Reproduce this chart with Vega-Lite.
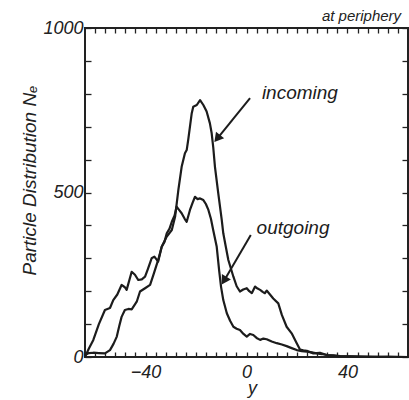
{
  "$schema": "https://vega.github.io/schema/vega-lite/v6.json",
  "width": 323,
  "height": 329,
  "autosize": "none",
  "padding": {"left": 85, "top": 28, "right": 1, "bottom": 43},
  "background": "white",
  "config": {
    "font": "Liberation Sans",
    "view": {"stroke": "#222222", "strokeWidth": 2},
    "axis": {"grid": false, "domain": false, "zindex": 1, "ticks": true, "tickColor": "#222222", "tickWidth": 1.3, "labelColor": "#222222", "titleColor": "#222222", "labelFont": "Liberation Sans", "titleFont": "Liberation Sans", "labelFontStyle": "italic", "titleFontStyle": "italic", "titleFontWeight": "normal", "labelFontSize": 18, "labelOverlap": false, "labelFlush": false}
  },
  "title": {"text": "at periphery", "anchor": "end", "fontSize": 15, "fontStyle": "italic", "fontWeight": "normal", "color": "#222222", "offset": 6, "dx": -8, "dy": 11},
  "datasets": {
    "curves": [
      {"s": "outgoing", "pos": -64, "N": 0}, {"s": "outgoing", "pos": -62.5, "N": 25}, {"s": "outgoing", "pos": -60.7, "N": 52}, {"s": "outgoing", "pos": -58.5, "N": 100}, {"s": "outgoing", "pos": -56.1, "N": 143}, {"s": "outgoing", "pos": -54.1, "N": 149}, {"s": "outgoing", "pos": -52.8, "N": 173}, {"s": "outgoing", "pos": -51.2, "N": 190}, {"s": "outgoing", "pos": -49.5, "N": 219}, {"s": "outgoing", "pos": -48.2, "N": 212}, {"s": "outgoing", "pos": -47.5, "N": 204}, {"s": "outgoing", "pos": -45.5, "N": 259}, {"s": "outgoing", "pos": -44.2, "N": 250}, {"s": "outgoing", "pos": -42.9, "N": 234}, {"s": "outgoing", "pos": -41.5, "N": 236}, {"s": "outgoing", "pos": -40.2, "N": 244}, {"s": "outgoing", "pos": -39.2, "N": 265}, {"s": "outgoing", "pos": -37.6, "N": 300}, {"s": "outgoing", "pos": -36.5, "N": 305}, {"s": "outgoing", "pos": -35.0, "N": 290}, {"s": "outgoing", "pos": -33.6, "N": 335}, {"s": "outgoing", "pos": -32.5, "N": 350}, {"s": "outgoing", "pos": -31.6, "N": 376}, {"s": "outgoing", "pos": -30.5, "N": 390}, {"s": "outgoing", "pos": -29.6, "N": 411}, {"s": "outgoing", "pos": -28.5, "N": 430}, {"s": "outgoing", "pos": -27.7, "N": 457}, {"s": "outgoing", "pos": -26.5, "N": 445}, {"s": "outgoing", "pos": -25.7, "N": 437}, {"s": "outgoing", "pos": -24.5, "N": 420}, {"s": "outgoing", "pos": -23.7, "N": 411}, {"s": "outgoing", "pos": -22.4, "N": 447}, {"s": "outgoing", "pos": -21.3, "N": 470}, {"s": "outgoing", "pos": -20.4, "N": 487}, {"s": "outgoing", "pos": -19.4, "N": 480}, {"s": "outgoing", "pos": -18.4, "N": 482}, {"s": "outgoing", "pos": -17.1, "N": 477}, {"s": "outgoing", "pos": -16.1, "N": 465}, {"s": "outgoing", "pos": -15.1, "N": 447}, {"s": "outgoing", "pos": -14.1, "N": 420}, {"s": "outgoing", "pos": -13.2, "N": 386}, {"s": "outgoing", "pos": -11.8, "N": 335}, {"s": "outgoing", "pos": -10.8, "N": 260}, {"s": "outgoing", "pos": -10.1, "N": 214}, {"s": "outgoing", "pos": -9.2, "N": 173}, {"s": "outgoing", "pos": -7.8, "N": 133}, {"s": "outgoing", "pos": -6.5, "N": 110}, {"s": "outgoing", "pos": -5.2, "N": 92}, {"s": "outgoing", "pos": -3.9, "N": 86}, {"s": "outgoing", "pos": -2.6, "N": 82}, {"s": "outgoing", "pos": -1.2, "N": 70}, {"s": "outgoing", "pos": 0.1, "N": 62}, {"s": "outgoing", "pos": 1.4, "N": 70}, {"s": "outgoing", "pos": 2.7, "N": 67}, {"s": "outgoing", "pos": 4.0, "N": 58}, {"s": "outgoing", "pos": 5.4, "N": 52}, {"s": "outgoing", "pos": 6.7, "N": 56}, {"s": "outgoing", "pos": 8.0, "N": 54}, {"s": "outgoing", "pos": 10.0, "N": 47}, {"s": "outgoing", "pos": 12.0, "N": 42}, {"s": "outgoing", "pos": 14.0, "N": 38}, {"s": "outgoing", "pos": 15.9, "N": 33}, {"s": "outgoing", "pos": 17.9, "N": 27}, {"s": "outgoing", "pos": 19.9, "N": 21}, {"s": "outgoing", "pos": 21.9, "N": 18}, {"s": "outgoing", "pos": 23.9, "N": 16}, {"s": "outgoing", "pos": 25.8, "N": 14}, {"s": "outgoing", "pos": 27.8, "N": 11}, {"s": "outgoing", "pos": 29.8, "N": 9}, {"s": "outgoing", "pos": 31.8, "N": 6}, {"s": "outgoing", "pos": 34.4, "N": 4}, {"s": "outgoing", "pos": 37.1, "N": 2}, {"s": "outgoing", "pos": 41, "N": 2}, {"s": "outgoing", "pos": 45, "N": 1}, {"s": "outgoing", "pos": 50, "N": 0}, {"s": "outgoing", "pos": 56, "N": 1}, {"s": "outgoing", "pos": 64, "N": 0},
      {"s": "incoming", "pos": -64, "N": 6}, {"s": "incoming", "pos": -62.5, "N": 12}, {"s": "incoming", "pos": -60.7, "N": 13}, {"s": "incoming", "pos": -58.5, "N": 12}, {"s": "incoming", "pos": -56.1, "N": 11}, {"s": "incoming", "pos": -54.1, "N": 21}, {"s": "incoming", "pos": -52.7, "N": 40}, {"s": "incoming", "pos": -51.4, "N": 62}, {"s": "incoming", "pos": -50.4, "N": 95}, {"s": "incoming", "pos": -49.5, "N": 122}, {"s": "incoming", "pos": -48.2, "N": 143}, {"s": "incoming", "pos": -46.8, "N": 146}, {"s": "incoming", "pos": -45.5, "N": 145}, {"s": "incoming", "pos": -43.5, "N": 168}, {"s": "incoming", "pos": -42.2, "N": 199}, {"s": "incoming", "pos": -40.2, "N": 209}, {"s": "incoming", "pos": -38.2, "N": 219}, {"s": "incoming", "pos": -36.7, "N": 254}, {"s": "incoming", "pos": -35.0, "N": 295}, {"s": "incoming", "pos": -33.6, "N": 335}, {"s": "incoming", "pos": -31.6, "N": 366}, {"s": "incoming", "pos": -29.6, "N": 386}, {"s": "incoming", "pos": -28.3, "N": 426}, {"s": "incoming", "pos": -27.0, "N": 508}, {"s": "incoming", "pos": -25.7, "N": 578}, {"s": "incoming", "pos": -24.4, "N": 619}, {"s": "incoming", "pos": -23.7, "N": 629}, {"s": "incoming", "pos": -23.1, "N": 660}, {"s": "incoming", "pos": -21.7, "N": 741}, {"s": "incoming", "pos": -21.1, "N": 761}, {"s": "incoming", "pos": -19.7, "N": 766}, {"s": "incoming", "pos": -18.4, "N": 781}, {"s": "incoming", "pos": -17.1, "N": 766}, {"s": "incoming", "pos": -15.8, "N": 746}, {"s": "incoming", "pos": -14.5, "N": 710}, {"s": "incoming", "pos": -13.8, "N": 680}, {"s": "incoming", "pos": -13.2, "N": 639}, {"s": "incoming", "pos": -12.5, "N": 578}, {"s": "incoming", "pos": -11.2, "N": 498}, {"s": "incoming", "pos": -9.8, "N": 416}, {"s": "incoming", "pos": -9.2, "N": 376}, {"s": "incoming", "pos": -8.2, "N": 335}, {"s": "incoming", "pos": -7.2, "N": 295}, {"s": "incoming", "pos": -5.2, "N": 244}, {"s": "incoming", "pos": -3.9, "N": 215}, {"s": "incoming", "pos": -2.6, "N": 199}, {"s": "incoming", "pos": -1.3, "N": 205}, {"s": "incoming", "pos": 0.1, "N": 209}, {"s": "incoming", "pos": 1.1, "N": 200}, {"s": "incoming", "pos": 2.1, "N": 194}, {"s": "incoming", "pos": 3.4, "N": 214}, {"s": "incoming", "pos": 4.4, "N": 208}, {"s": "incoming", "pos": 5.4, "N": 204}, {"s": "incoming", "pos": 6.4, "N": 198}, {"s": "incoming", "pos": 7.3, "N": 194}, {"s": "incoming", "pos": 8.0, "N": 202}, {"s": "incoming", "pos": 9.3, "N": 190}, {"s": "incoming", "pos": 10.6, "N": 178}, {"s": "incoming", "pos": 12.6, "N": 163}, {"s": "incoming", "pos": 14.0, "N": 128}, {"s": "incoming", "pos": 15.9, "N": 92}, {"s": "incoming", "pos": 17.9, "N": 72}, {"s": "incoming", "pos": 19.9, "N": 42}, {"s": "incoming", "pos": 21.2, "N": 23}, {"s": "incoming", "pos": 22.5, "N": 20}, {"s": "incoming", "pos": 23.9, "N": 19}, {"s": "incoming", "pos": 26.5, "N": 11}, {"s": "incoming", "pos": 29.1, "N": 13}, {"s": "incoming", "pos": 31.8, "N": 6}, {"s": "incoming", "pos": 34.4, "N": 5}, {"s": "incoming", "pos": 37.1, "N": 3}, {"s": "incoming", "pos": 41, "N": 2}, {"s": "incoming", "pos": 45, "N": 1}, {"s": "incoming", "pos": 50, "N": 1}, {"s": "incoming", "pos": 56, "N": 0}, {"s": "incoming", "pos": 64, "N": 0}
    ],
    "arrows": [
      {"label": "incoming", "pos": 1.4, "N": 787, "pos2": -11.6, "N2": 664},
      {"label": "outgoing", "pos": 1.7, "N": 371, "pos2": -8.9, "N2": 232}
    ],
    "labels": [
      {"label": "incoming", "pos": 6.1, "N": 802},
      {"label": "outgoing", "pos": 4.0, "N": 392}
    ]
  },
  "layer": [
    {
      "data": {"name": "curves"},
      "mark": {"type": "line", "color": "#1c1c1c", "strokeWidth": 2.2, "strokeJoin": "round"},
      "encoding": {
        "x": {"field": "pos", "type": "quantitative", "scale": {"domain": [-64, 64], "nice": false, "zero": false},
          "axis": {"orient": "bottom", "values": [-60,-56,-52,-48,-44,-40,-36,-32,-28,-24,-20,-16,-12,-8,-4,0,4,8,12,16,20,24,28,32,36,40,44,48,52,56,60],
            "labelExpr": "datum.value % 40 === 0 ? datum.label : ''",
            "tickSize": -5, "tickWidth": 1.3,
            "labelPadding": 11, "title": "y", "titleFontSize": 18, "titleX": 167, "titleY": 36, "titleBaseline": "alphabetic"}},
        "y": {"field": "N", "type": "quantitative", "scale": {"domain": [0, 1000], "nice": false},
          "axis": {"orient": "left", "values": [0,100,200,300,400,500,600,700,800,900,1000], "format": "d",
            "labelExpr": "datum.value % 500 === 0 ? datum.label : ''",
            "tickSize": -6, "labelPadding": 8, "labelBaseline": "middle",
            "title": "Particle Distribution Nₑ", "titleFontSize": 19, "titleX": -50, "titleY": 152, "titleAngle": -90, "titleAlign": "center", "titleBaseline": "alphabetic"}},
        "detail": {"field": "s", "type": "nominal"}
      }
    },
    {
      "data": {"name": "arrows"},
      "mark": {"type": "rule", "color": "#1c1c1c", "strokeWidth": 2},
      "encoding": {
        "x": {"field": "pos", "type": "quantitative", "scale": {"domain": [-64, 64], "nice": false, "zero": false},
          "axis": {"orient": "top", "values": [-60,-56,-52,-48,-44,-40,-36,-32,-28,-24,-20,-16,-12,-8,-4,0,4,8,12,16,20,24,28,32,36,40,44,48,52,56,60],
            "labels": false, "title": null, "tickSize": -5}},
        "y": {"field": "N", "type": "quantitative", "scale": {"domain": [0, 1000], "nice": false},
          "axis": {"orient": "right", "values": [0,100,200,300,400,500,600,700,800,900,1000], "labels": false, "title": null, "tickSize": -6}},
        "x2": {"field": "pos2"},
        "y2": {"field": "N2"}
      }
    },
    {
      "data": {"name": "arrows"},
      "mark": {"type": "point", "shape": "triangle-up", "filled": true, "color": "#1c1c1c", "opacity": 1, "size": 110},
      "encoding": {
        "x": {"field": "pos2", "type": "quantitative", "scale": {"domain": [-64, 64], "nice": false, "zero": false}, "axis": null},
        "y": {"field": "N2", "type": "quantitative", "scale": {"domain": [0, 1000], "nice": false}, "axis": null},
        "angle": {"condition": {"test": "datum.label === 'incoming'", "value": 219}, "value": 211}
      }
    },
    {
      "data": {"name": "labels"},
      "mark": {"type": "text", "align": "left", "baseline": "middle", "fontSize": 19, "fontStyle": "italic", "font": "Liberation Sans", "color": "#1c1c1c"},
      "encoding": {
        "x": {"field": "pos", "type": "quantitative", "scale": {"domain": [-64, 64], "nice": false, "zero": false}, "axis": null},
        "y": {"field": "N", "type": "quantitative", "scale": {"domain": [0, 1000], "nice": false}, "axis": null},
        "text": {"field": "label"}
      }
    }
  ],
  "resolve": {"axis": {"x": "independent", "y": "independent"}}
}
